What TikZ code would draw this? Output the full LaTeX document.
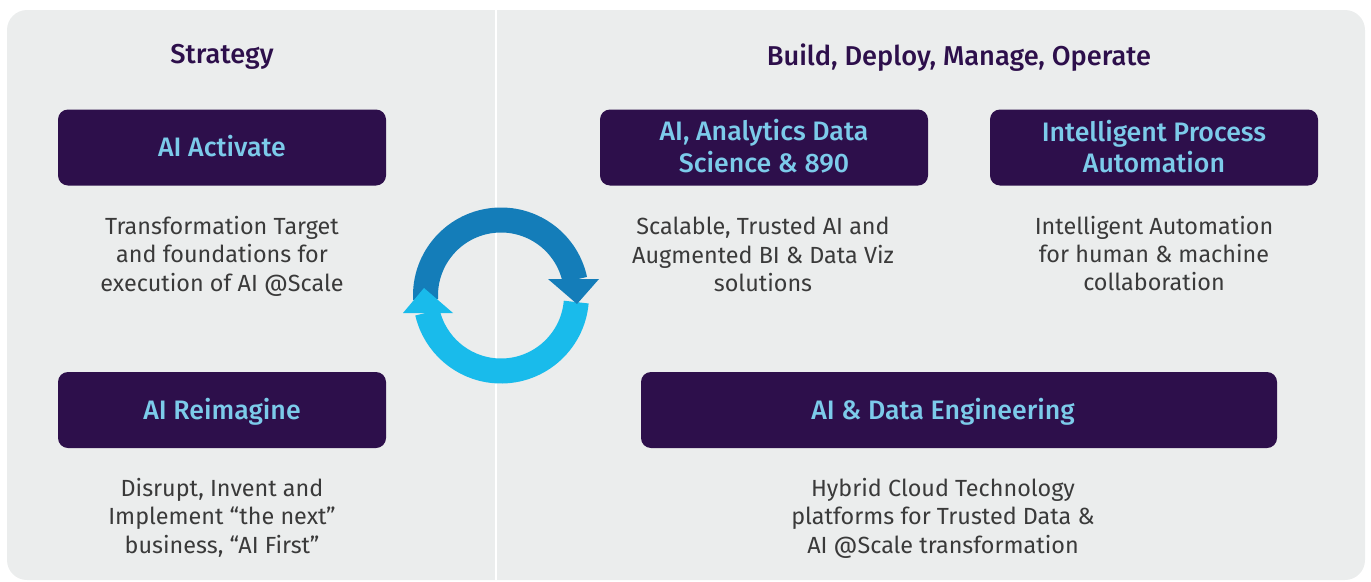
\documentclass[tikz,border=0pt]{standalone}
\usepackage{fontspec}
\setmainfont{Fira Sans}
\newfontfamily\mediumfont{Fira Sans Medium}
\usepackage{xcolor}
\usetikzlibrary{positioning,calc}
\definecolor{panelgrey}{HTML}{EBEDED}
\definecolor{boxpurple}{HTML}{2D0F4B}
\definecolor{boxtext}{HTML}{7CCBEA}
\definecolor{bodygrey}{HTML}{3A3A3A}
\definecolor{arrowdark}{HTML}{147DB9}
\definecolor{arrowlight}{HTML}{19BBEB}

\begin{document}
\begin{tikzpicture}[
    block/.style={rectangle, fill=boxpurple, rounded corners=0.2cm, minimum width=6.56cm, minimum height=1.52cm, inner sep=0pt},
    blocktext/.style={text=boxtext, align=center, inner sep=0pt, font=\fontsize{15.2}{18}\selectfont\mediumfont},
    heading/.style={text=boxpurple, inner sep=0pt, font=\fontsize{15.5}{18}\selectfont\mediumfont},
    desc/.style={text=bodygrey, align=center, inner sep=0pt, font=\fontsize{13.3}{16.2}\selectfont}
]
    \useasboundingbox (0,0) rectangle (27.42,11.62);

    % Panel and divider
    \fill[panelgrey, rounded corners=0.4cm] (0.14,0.02) rectangle (27.3,11.42);
    \draw[white, line width=0.05cm] (9.92,0.02) -- (9.92,11.42);

    % Headings
    \node[heading] (strategy) at (4.44,10.48) {Strategy};
    \node[heading] (build) at (19.18,10.46) {Build, Deploy, Manage, Operate};

    % Blocks
    \node[block] (activate) at (4.44,8.67) {};
    \node[block] (reimagine) at (4.44,3.42) {};
    \node[block] (analytics) at (15.28,8.67) {};
    \node[block] (automation) at (23.08,8.67) {};
    \node[block, minimum width=12.72cm] (engineering) at (19.18,3.42) {};

    % Block labels
    \node[blocktext] (activatetext) at (4.44,8.7) {AI Activate};
    \node[blocktext] (reimaginetext) at (4.44,3.38) {AI Reimagine};
    \node[blocktext] (analyticstext) at (15.28,8.69) {AI, Analytics Data\\Science \& 890};
    \node[blocktext] (automationtext) at (23.08,8.69) {Intelligent Process\\Automation};
    \node[blocktext] (engineeringtext) at (18.86,3.38) {AI \& Data Engineering};

    % Descriptions
    \node[desc] (activatedesc) at (4.44,6.5) {Transformation Target\\and foundations for\\execution of AI @Scale};
    \node[desc] (analyticsdesc) at (15.26,6.53) {Scalable, Trusted AI and\\Augmented BI \& Data Viz\\solutions};
    \node[desc] (automationdesc) at (23.08,6.55) {Intelligent Automation\\for human \& machine\\collaboration};
    \node[desc] (reimaginedesc) at (4.44,1.27) {Disrupt, Invent and\\Implement “the next”\\business, “AI First”};
    \node[desc] (engineeringdesc) at (18.86,1.26) {Hybrid Cloud Technology\\platforms for Trusted Data \&\\AI @Scale transformation};

    % Cycle arrows
    \coordinate (cycle) at (10.02,5.71);
    \draw[arrowdark, line width=0.5cm] ($(cycle)+(183:1.51)$) arc[start angle=183, end angle=12, radius=1.51];
    \draw[arrowlight, line width=0.5cm] ($(cycle)+(-5:1.51)$) arc[start angle=-5, end angle=-167, radius=1.51];
    \fill[arrowlight] (8.06,5.36) -- (9.06,5.36) -- (8.48,5.86) -- cycle;
    \fill[arrowdark] (10.96,6.04) -- (11.98,6.04) -- (11.54,5.54) -- cycle;
\end{tikzpicture}
\end{document}
